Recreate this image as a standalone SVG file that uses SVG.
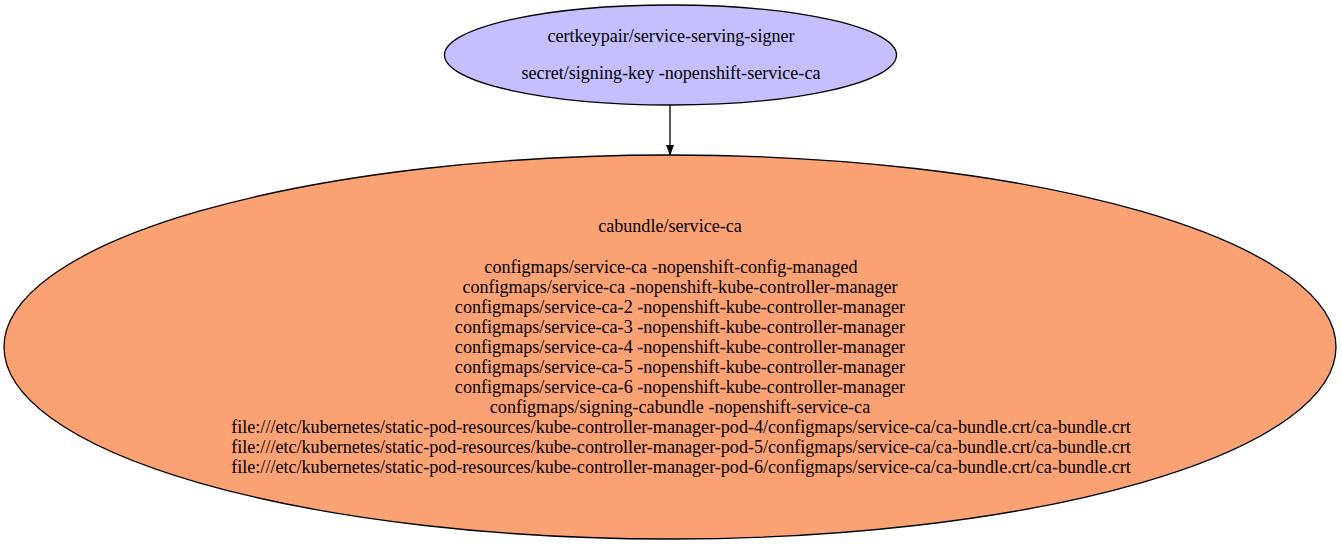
<svg xmlns="http://www.w3.org/2000/svg" width="1342" height="545" viewBox="0 0 1342 545">
<style>
text{font-family:"Liberation Serif","Times New Roman",serif;font-size:18.1px;fill:#000;text-anchor:middle}
.n{stroke:#000;stroke-width:1.3}
</style>
<defs>
<marker id="ah" markerWidth="10" markerHeight="14" refX="14" refY="7" orient="auto" markerUnits="userSpaceOnUse" viewBox="0 0 14 14">
<path d="M0,2 L14,7 L0,12 Z" fill="#000" stroke="#000"/>
</marker>
</defs>
<rect width="1342" height="545" fill="#fff"/>
<g id="connectors">
<line x1="670" y1="105" x2="670" y2="155" stroke="#000" stroke-width="1.3" marker-end="url(#ah)"/>
</g>
<g id="signer">
<ellipse class="n" cx="670.5" cy="55" rx="226" ry="50" fill="#c5bfff"/>
<text x="671" y="42">certkeypair/service-serving-signer</text>
<text x="671" y="79">secret/signing-key -nopenshift-service-ca</text>
</g>
<g id="cabundle">
<ellipse class="n" cx="670" cy="347" rx="666" ry="192" fill="#fba274"/>
<text x="670" y="232">cabundle/service-ca</text>
<text x="671" y="273">configmaps/service-ca -nopenshift-config-managed</text>
<text x="680" y="293">configmaps/service-ca -nopenshift-kube-controller-manager</text>
<text x="680" y="313">configmaps/service-ca-2 -nopenshift-kube-controller-manager</text>
<text x="680" y="333">configmaps/service-ca-3 -nopenshift-kube-controller-manager</text>
<text x="680" y="353">configmaps/service-ca-4 -nopenshift-kube-controller-manager</text>
<text x="680" y="373">configmaps/service-ca-5 -nopenshift-kube-controller-manager</text>
<text x="680" y="393">configmaps/service-ca-6 -nopenshift-kube-controller-manager</text>
<text x="680" y="413">configmaps/signing-cabundle -nopenshift-service-ca</text>
<text x="681" y="433">file:///etc/kubernetes/static-pod-resources/kube-controller-manager-pod-4/configmaps/service-ca/ca-bundle.crt/ca-bundle.crt</text>
<text x="681" y="453">file:///etc/kubernetes/static-pod-resources/kube-controller-manager-pod-5/configmaps/service-ca/ca-bundle.crt/ca-bundle.crt</text>
<text x="681" y="473">file:///etc/kubernetes/static-pod-resources/kube-controller-manager-pod-6/configmaps/service-ca/ca-bundle.crt/ca-bundle.crt</text>
</g>
</svg>
